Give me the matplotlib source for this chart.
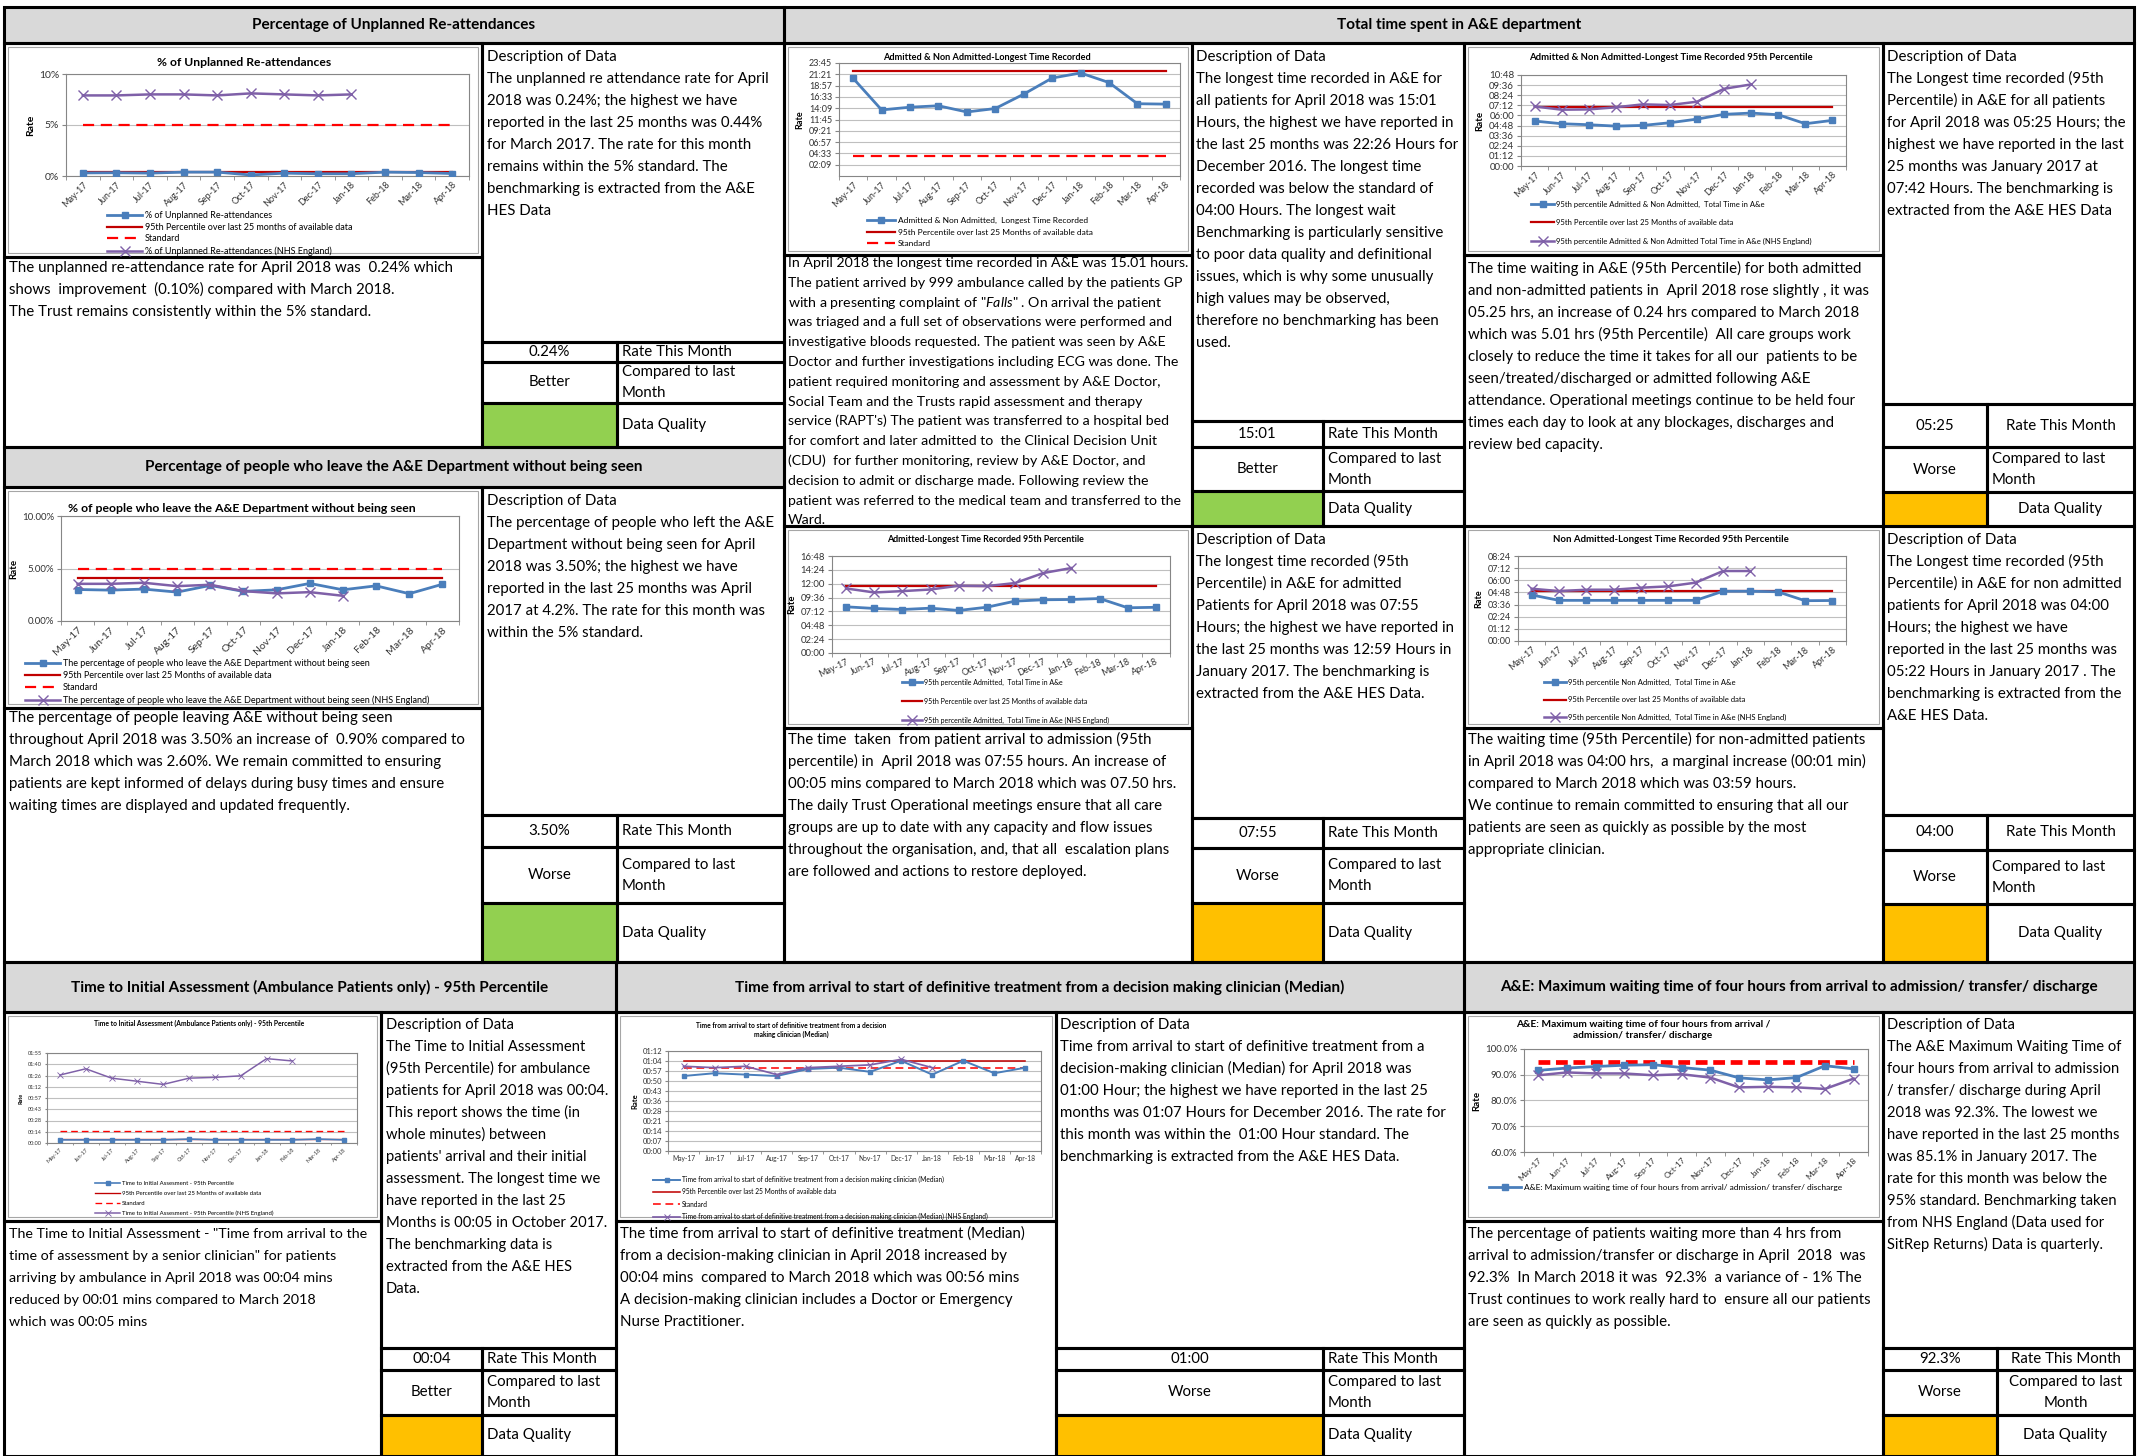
import math
import matplotlib
matplotlib.use('Agg')
import matplotlib.pyplot as plt
from matplotlib.patches import Rectangle
from matplotlib.ticker import FuncFormatter

W, H = 2155, 1456
plt.rcParams['font.family'] = ['Lato', 'DejaVu Sans']
plt.rcParams['mathtext.fontset'] = 'custom'
plt.rcParams['mathtext.rm'] = 'Lato'
plt.rcParams['mathtext.it'] = 'Lato:italic'

# ---------------- data ----------------
months = ['May-17', 'Jun-17', 'Jul-17', 'Aug-17', 'Sep-17', 'Oct-17',
          'Nov-17', 'Dec-17', 'Jan-18', 'Feb-18', 'Mar-18', 'Apr-18']

# % of unplanned re-attendances
reatt = [0.30, 0.32, 0.28, 0.38, 0.38, 0.10, 0.28, 0.22, 0.22, 0.38, 0.34, 0.24]
reatt_p95 = 0.40
reatt_std = 5.0
reatt_nhs = [7.9, 7.9, 8.0, 8.0, 7.9, 8.1, 8.0, 7.9, 8.0]

# admitted & non admitted, longest time recorded (hh:mm)
longest = ['20:29', '13:47', '14:22', '14:40', '13:21', '14:05',
           '17:08', '20:33', '21:38', '19:36', '15:06', '15:01']
longest_p95 = '22:05'
longest_std = '04:00'

# admitted & non admitted, 95th percentile total time
allp = ['05:20', '05:01', '04:54', '04:44', '04:49', '05:08',
        '05:34', '06:08', '06:17', '06:05', '05:01', '05:25']
allp_p95 = '07:02'
allp_nhs = ['07:04', '06:41', '06:43', '06:58', '07:19', '07:14', '07:38', '09:10', '09:41']

# % leaving without being seen
left = [3.00, 2.94, 3.04, 2.75, 3.39, 2.82, 2.97, 3.58, 2.97, 3.35, 2.60, 3.50]
left_p95 = 4.11
left_std = 5.0
left_nhs = [3.54, 3.54, 3.64, 3.32, 3.45, 2.85, 2.63, 2.75, 2.40]

# admitted 95th percentile
adm = ['08:00', '07:43', '07:32', '07:46', '07:22', '07:56',
       '08:59', '09:13', '09:16', '09:26', '07:50', '07:55']
adm_p95 = '11:35'
adm_nhs = ['11:11', '10:29', '10:43', '11:00', '11:39', '11:35', '12:07', '13:51', '14:43']

# non admitted 95th percentile
nonadm = ['04:33', '04:01', '04:01', '04:01', '04:01', '04:01',
          '04:01', '04:55', '04:55', '04:52', '03:59', '04:00']
nonadm_p95 = '04:55'
nonadm_nhs = ['05:10', '04:56', '05:04', '05:04', '05:16', '05:24', '05:46', '06:55', '06:55']

# time to initial assessment (ambulance), 95th percentile
tia = ['00:04', '00:04', '00:04', '00:04', '00:04', '00:05',
       '00:04', '00:04', '00:04', '00:04', '00:05', '00:04']
tia_p95 = '00:05'
tia_std = '00:15'
tia_nhs = ['01:27', '01:35', '01:23', '01:19', '01:15', '01:23', '01:24', '01:26', '01:48', '01:45']

# time to treatment by decision making clinician (median)
ttt = ['00:54', '00:56', '00:55', '00:54', '00:59', '01:00',
       '00:57', '01:05', '00:55', '01:05', '00:56', '01:00']
ttt_p95 = '01:05'
ttt_std = '01:00'
ttt_nhs = ['01:01', '01:00', '01:01', '00:55', '01:00', '01:01', '01:02', '01:06', '01:00']

# four hour maximum wait (%)
fourhr = [91.7, 92.6, 93.2, 93.7, 93.9, 92.8, 91.8, 88.8, 88.0, 88.9, 93.5, 92.3]
fourhr_std = 95.0
fourhr_nhs = [89.8, 90.9, 90.5, 90.5, 89.8, 90.2, 88.9, 85.1, 85.3, 85.1, 84.5, 88.5]

# ---------------- texts ----------------
desc1 = ['Description of Data', 'The unplanned re attendance rate for April',
         '2018 was 0.24%; the highest we have', 'reported in the last 25 months was 0.44%',
         'for March 2017. The rate for this month', 'remains within the 5% standard. The',
         'benchmarking is extracted from the A&E', 'HES Data']
comm1 = ['The unplanned re-attendance rate for April 2018 was  0.24% which',
         'shows  improvement  (0.10%) compared with March 2018.',
         'The Trust remains consistently within the 5% standard.']
desc2 = ['Description of Data', 'The longest time recorded in A&E for',
         'all patients for April 2018 was 15:01', 'Hours, the highest we have reported in',
         'the last 25 months was 22:26 Hours for', 'December 2016. The longest time',
         'recorded was below the standard of', '04:00 Hours. The longest wait',
         'Benchmarking is particularly sensitive', 'to poor data quality and definitional',
         'issues, which is why some unusually', 'high values may be observed,',
         'therefore no benchmarking has been', 'used.']
comm2 = ['In April 2018 the longest time recorded in A&E was 15.01 hours.',
         'The patient arrived by 999 ambulance called by the patients GP',
         'with a presenting complaint of "$\\mathit{Falls}$" . On arrival the patient',
         'was triaged and a full set of observations were performed and',
         'investigative bloods requested. The patient was seen by A&E',
         'Doctor and further investigations including ECG was done. The',
         'patient required monitoring and assessment by A&E Doctor,',
         'Social Team and the Trusts rapid assessment and therapy',
         "service (RAPT's) The patient was transferred to a hospital bed",
         'for comfort and later admitted to  the Clinical Decision Unit',
         '(CDU)  for further monitoring, review by A&E Doctor, and',
         'decision to admit or discharge made. Following review the',
         'patient was referred to the medical team and transferred to the',
         'Ward.']
desc3 = ['Description of Data', 'The Longest time recorded (95th',
         'Percentile) in A&E for all patients', 'for April 2018 was 05:25 Hours; the',
         'highest we have reported in the last', '25 months was January 2017 at',
         '07:42 Hours. The benchmarking is', 'extracted from the A&E HES Data']
comm3 = ['The time waiting in A&E (95th Percentile) for both admitted',
         'and non-admitted patients in  April 2018 rose slightly , it was',
         '05.25 hrs, an increase of 0.24 hrs compared to March 2018',
         'which was 5.01 hrs (95th Percentile)  All care groups work',
         'closely to reduce the time it takes for all our  patients to be',
         'seen/treated/discharged or admitted following A&E',
         'attendance. Operational meetings continue to be held four',
         'times each day to look at any blockages, discharges and',
         'review bed capacity.']
desc4 = ['Description of Data', 'The percentage of people who left the A&E',
         'Department without being seen for April', '2018 was 3.50%; the highest we have',
         'reported in the last 25 months was April', '2017 at 4.2%. The rate for this month was',
         'within the 5% standard.']
comm4 = ['The percentage of people leaving A&E without being seen',
         'throughout April 2018 was 3.50% an increase of  0.90% compared to',
         'March 2018 which was 2.60%. We remain committed to ensuring',
         'patients are kept informed of delays during busy times and ensure',
         'waiting times are displayed and updated frequently.']
desc5 = ['Description of Data', 'The longest time recorded (95th',
         'Percentile) in A&E for admitted', 'Patients for April 2018 was 07:55',
         'Hours; the highest we have reported in', 'the last 25 months was 12:59 Hours in',
         'January 2017. The benchmarking is', 'extracted from the A&E HES Data.']
comm5 = ['The time  taken  from patient arrival to admission (95th',
         'percentile) in  April 2018 was 07:55 hours. An increase of',
         '00:05 mins compared to March 2018 which was 07.50 hrs.',
         'The daily Trust Operational meetings ensure that all care',
         'groups are up to date with any capacity and flow issues',
         'throughout the organisation, and, that all  escalation plans',
         'are followed and actions to restore deployed.']
desc6 = ['Description of Data', 'The Longest time recorded (95th',
         'Percentile) in A&E for non admitted', 'patients for April 2018 was 04:00',
         'Hours; the highest we have', 'reported in the last 25 months was',
         '05:22 Hours in January 2017 . The', 'benchmarking is extracted from the',
         'A&E HES Data.']
comm6 = ['The waiting time (95th Percentile) for non-admitted patients',
         'in April 2018 was 04:00 hrs,  a marginal increase (00:01 min)',
         'compared to March 2018 which was 03:59 hours.',
         'We continue to remain committed to ensuring that all our',
         'patients are seen as quickly as possible by the most',
         'appropriate clinician.']
desc7 = ['Description of Data', 'The Time to Initial Assessment',
         '(95th Percentile) for ambulance', 'patients for April 2018 was 00:04.',
         'This report shows the time (in', 'whole minutes) between',
         "patients' arrival and their initial", 'assessment. The longest time we',
         'have reported in the last 25', 'Months is 00:05 in October 2017.',
         'The benchmarking data is', 'extracted from the A&E HES', 'Data.']
comm7 = ['The Time to Initial Assessment - "Time from arrival to the',
         'time of assessment by a senior clinician" for patients',
         'arriving by ambulance in April 2018 was 00:04 mins',
         'reduced by 00:01 mins compared to March 2018',
         'which was 00:05 mins']
desc8 = ['Description of Data', 'Time from arrival to start of definitive treatment from a',
         'decision-making clinician (Median) for April 2018 was',
         '01:00 Hour; the highest we have reported in the last 25',
         'months was 01:07 Hours for December 2016. The rate for',
         'this month was within the  01:00 Hour standard. The',
         'benchmarking is extracted from the A&E HES Data.']
comm8 = ['The time from arrival to start of definitive treatment (Median)',
         'from a decision-making clinician in April 2018 increased by',
         '00:04 mins  compared to March 2018 which was 00:56 mins',
         'A decision-making clinician includes a Doctor or Emergency',
         'Nurse Practitioner.']
desc9 = ['Description of Data', 'The A&E Maximum Waiting Time of',
         'four hours from arrival to admission', '/ transfer/ discharge during April',
         '2018 was 92.3%. The lowest we', 'have reported in the last 25 months',
         'was 85.1% in January 2017. The', 'rate for this month was below the',
         '95% standard. Benchmarking taken', 'from NHS England (Data used for',
         'SitRep Returns) Data is quarterly.']
comm9 = ['The percentage of patients waiting more than 4 hrs from',
         'arrival to admission/transfer or discharge in April  2018  was',
         '92.3%  In March 2018 it was  92.3%  a variance of - 1% The',
         'Trust continues to work really hard to  ensure all our patients',
         'are seen as quickly as possible.']

GREEN = '#92d050'
AMBER = '#ffc000'
GREY = '#d9d9d9'
FS = 10.8

fig = plt.figure(figsize=(W / 100, H / 100), dpi=100)
bg = fig.add_axes([0, 0, 1, 1])
bg.set_xlim(0, W)
bg.set_ylim(H, 0)
bg.axis('off')


def frac(x0, y0, x1, y1):
    return [x0 / W, 1 - y1 / H, (x1 - x0) / W, (y1 - y0) / H]


def cell(x0, y0, x1, y1, fc='white'):
    bg.add_patch(Rectangle((x0, y0), x1 - x0, y1 - y0, fc=fc, ec='none', zorder=1))
    bg.add_patch(Rectangle((x0, y0), x1 - x0, y1 - y0, fill=False, ec='black', lw=2.2, zorder=2))


def write(x, y, rows, dy=22, fs=FS):
    for i, r in enumerate(rows):
        bg.text(x, y + i * dy, r, fontsize=fs, ha='left', va='baseline', zorder=5)


def header(x0, y0, x1, y1, txt):
    cell(x0, y0, x1, y1, fc=GREY)
    bg.text((x0 + x1) / 2, (y0 + y1) / 2, txt, ha='center', va='center',
            fontsize=11, fontweight='bold', zorder=5)


def table(x0, xm, x1, ys, value, status, dq, align=('left', 'left', 'left')):
    rows = [(ys[0], ys[1]), (ys[1], ys[2]), (ys[2], ys[3])]
    for (a, b), f in zip(rows, ['white', 'white', dq]):
        cell(x0, a, xm, b, fc=f)
        cell(xm, a, x1, b)
    bg.text((x0 + xm) / 2, sum(rows[0]) / 2, value, ha='center', va='center', fontsize=FS, zorder=5)
    bg.text((x0 + xm) / 2, sum(rows[1]) / 2, status, ha='center', va='center', fontsize=FS, zorder=5)

    def lab(txt, yc, al):
        x = xm + 5 if al == 'left' else (xm + x1) / 2
        bg.text(x, yc, txt, ha=al, va='center', fontsize=FS, zorder=5)
    lab('Rate This Month', sum(rows[0]) / 2, align[0])
    lab('Compared to last', sum(rows[1]) / 2 - 10.5, align[1])
    lab('Month', sum(rows[1]) / 2 + 10.5, align[1])
    lab('Data Quality', sum(rows[2]) / 2, align[2])


def hrs(t):
    h, m = t.split(':')
    return int(h) + int(m) / 60


def as_num(v):
    if isinstance(v, str):
        return hrs(v)
    if isinstance(v, list):
        return [as_num(i) for i in v]
    return v


def hhmm(v, pos=None):
    m = int(math.floor(v * 60 + 1e-6))
    return '%02d:%02d' % (m // 60, m % 60)


def style(kind, k):
    if kind == 'main':
        return dict(color='#4a7ebb', lw=2.0 * k, marker='s', ms=4.5 * k, zorder=4)
    if kind == 'p95':
        return dict(color='#c00000', lw=1.6 * k, zorder=3)
    if kind == 'std':
        return dict(color='#ff0000', lw=1.6 * k, ls=(0, (5, 3)), zorder=3)
    if kind == 'std_bold':
        return dict(color='#ff0000', lw=3.4 * k, ls=(0, (2.5, 1.2)), zorder=3)
    return dict(color='#7f60a8', lw=1.8 * k, marker='x', ms=7 * k, mew=1.0 * k, zorder=4)


def chart(cell_px, plot_px, series, ylim, yticks, yfmt, title, title_xy, title_fs,
          tick_fs, xtick_fs, leg, xrot=45, k=1.0):
    x0, y0, x1, y1 = cell_px
    bg.add_patch(Rectangle((x0 + 4, y0 + 4), x1 - x0 - 8, y1 - y0 - 8, fc='white',
                           ec='#a6a6a6', lw=0.8, zorder=3))
    bg.text(title_xy[0], title_xy[1], title, ha='center', va='center', fontsize=title_fs,
            fontweight='bold', zorder=5, linespacing=1.3)
    ax = fig.add_axes(frac(*plot_px))
    n = len(months)
    for vals, kind, label in series:
        vals = as_num(vals)
        if not isinstance(vals, list):
            vals = [vals] * n
        ax.plot(range(len(vals)), vals, label=label, **style(kind, k))
    ax.set_xlim(-0.5, n - 0.5)
    ax.set_xticks(range(n))
    if xrot:
        ax.set_xticklabels(months, rotation=xrot, ha='right', rotation_mode='anchor', fontsize=xtick_fs)
    else:
        ax.set_xticklabels(months, fontsize=xtick_fs)
    ax.set_xticks([i - 0.5 for i in range(n + 1)], minor=True)
    ax.tick_params(axis='x', which='major', length=0, pad=3, colors='#333333')
    ax.tick_params(axis='x', which='minor', length=3 * k, color='#868686')
    ax.set_ylim(*ylim)
    ax.set_yticks(yticks)
    ax.yaxis.set_major_formatter(FuncFormatter(yfmt))
    ax.tick_params(axis='y', labelsize=tick_fs, length=3 * k, color='#868686', pad=2,
                   labelcolor='#333333')
    ax.grid(axis='y', color='#bfbfbf', lw=0.8)
    ax.set_axisbelow(True)
    for s in ax.spines.values():
        s.set_color('#868686')
        s.set_linewidth(0.8)
    ax.set_ylabel('Rate', fontsize=tick_fs, fontweight='bold', labelpad=3)

    lx, ly, pitch, lfs, hpx = leg
    fpx = lfs * 100 / 72
    ax.legend(loc='upper left', bbox_to_anchor=(lx / W, 1 - (ly - 0.45 * fpx) / H),
              bbox_transform=fig.transFigure, frameon=False, fontsize=lfs,
              borderpad=0, borderaxespad=0, labelspacing=max(pitch / fpx - 0.9, 0),
              handlelength=hpx / fpx, handletextpad=0.3)
    return ax


def steps(step, count, start=0.0):
    return [round(start + i * step, 6) for i in range(count)]


pct0 = lambda v, p: '%d%%' % round(v)
pct2 = lambda v, p: '%.2f%%' % v
pct1 = lambda v, p: '%.1f%%' % v

# ---------------- headers ----------------
header(4, 7, 784, 43, 'Percentage of Unplanned Re-attendances')
header(784, 7, 2134, 43, 'Total time spent in A&E department')
header(4, 447, 784, 487, 'Percentage of people who leave the A&E Department without being seen')
header(4, 962, 616, 1012, 'Time to Initial Assessment (Ambulance Patients only) - 95th Percentile')
header(616, 962, 1464, 1012,
       'Time from arrival to start of definitive treatment from a decision making clinician (Median)')
header(1464, 962, 2134, 1012,
       'A&E: Maximum waiting time of four hours from arrival to admission/ transfer/ discharge')

# ---------------- chart cells, commentary, descriptions ----------------
for c in [(4, 43, 482, 257), (784, 43, 1192, 255), (1464, 43, 1883, 255),
          (4, 487, 482, 708), (784, 526, 1192, 728), (1464, 526, 1883, 728),
          (4, 1012, 381, 1221), (616, 1012, 1056, 1221), (1464, 1012, 1883, 1221)]:
    cell(*c)

cell(4, 257, 482, 447); write(9, 272, comm1)
cell(784, 255, 1192, 526); write(788, 267, comm2, dy=19.8, fs=10.2)
cell(1464, 255, 1883, 526); write(1468, 273, comm3)
cell(4, 708, 482, 962); write(9, 722, comm4)
cell(784, 728, 1192, 962); write(788, 744, comm5)
cell(1464, 728, 1883, 962); write(1468, 744, comm6)
cell(4, 1221, 381, 1456); write(9, 1238, comm7, fs=10.3)
cell(616, 1221, 1056, 1456); write(620, 1238, comm8)
cell(1464, 1221, 1883, 1456); write(1468, 1238, comm9)

cell(482, 43, 784, 342); write(487, 61, desc1)
cell(1192, 43, 1464, 421); write(1196, 61, desc2)
cell(1883, 43, 2134, 404); write(1887, 61, desc3)
cell(482, 487, 784, 815); write(487, 505, desc4)
cell(1192, 526, 1464, 818); write(1196, 544, desc5)
cell(1883, 526, 2134, 815); write(1887, 544, desc6)
cell(381, 1012, 616, 1348); write(386, 1029, desc7, fs=10.6)
cell(1056, 1012, 1464, 1348); write(1060, 1029, desc8)
cell(1883, 1012, 2134, 1348); write(1887, 1029, desc9, fs=10.6)

table(482, 617, 784, [342, 362, 403, 447], '0.24%', 'Better', GREEN)
table(1192, 1323, 1464, [421, 447, 491, 526], '15:01', 'Better', GREEN)
table(1883, 1987, 2134, [404, 447, 492, 526], '05:25', 'Worse', AMBER, ('center', 'left', 'center'))
table(482, 617, 784, [815, 847, 903, 962], '3.50%', 'Worse', GREEN)
table(1192, 1323, 1464, [818, 848, 903, 962], '07:55', 'Worse', AMBER)
table(1883, 1987, 2134, [815, 850, 904, 962], '04:00', 'Worse', AMBER, ('center', 'left', 'center'))
table(381, 482, 616, [1348, 1370, 1415, 1456], '00:04', 'Better', AMBER)
table(1056, 1323, 1464, [1348, 1370, 1415, 1456], '01:00', 'Worse', AMBER)
table(1883, 1997, 2134, [1348, 1370, 1415, 1456], '92.3%', 'Worse', AMBER, ('center', 'center', 'center'))

# ---------------- charts ----------------
chart((4, 43, 482, 257), (66, 74, 469, 176),
      [(reatt, 'main', '% of Unplanned Re-attendances'),
       (reatt_p95, 'p95', '95th Percentile over last 25 months of available data'),
       (reatt_std, 'std', 'Standard'),
       (reatt_nhs, 'nhs', '% of Unplanned Re-attendances (NHS England)')],
      (0, 10), [0, 5, 10], pct0, '% of Unplanned Re-attendances', (244, 62), 8.7,
      7.5, 6.5, (107, 215, 10.9, 6.5, 35))

chart((784, 43, 1192, 255), (839, 63, 1180, 176),
      [(longest, 'main', 'Admitted & Non Admitted,  Longest Time Recorded'),
       (longest_p95, 'p95', '95th Percentile over last 25 Months of available data'),
       (longest_std, 'std', 'Standard')],
      (-0.25, 23.75), steps(2.4, 10, 2.15), hhmm,
      'Admitted & Non Admitted-Longest Time Recorded', (987, 58), 6.6,
      6.5, 6.5, (867, 221, 11.7, 6, 28))

chart((1464, 43, 1883, 255), (1521, 75, 1846, 166),
      [(allp, 'main', '95th percentile Admitted & Non Admitted,  Total Time in A&e'),
       (allp_p95, 'p95', '95th Percentile over last 25 Months of available data'),
       (allp_nhs, 'nhs', '95th percentile Admitted & Non Admitted Total Time in A&e (NHS England)')],
      (0, 10.8), steps(1.2, 10), hhmm,
      'Admitted & Non Admitted-Longest Time Recorded 95th Percentile', (1671, 57), 6.8,
      7, 6.5, (1531, 204, 18.3, 5.5, 23))

chart((4, 487, 482, 708), (61, 516, 459, 621),
      [(left, 'main', 'The percentage of people who leave the A&E Department without being seen'),
       (left_p95, 'p95', '95th Percentile over last 25 Months of available data'),
       (left_std, 'std', 'Standard'),
       (left_nhs, 'nhs', 'The percentage of people who leave the A&E Department without being seen (NHS England)')],
      (0, 10), [0, 5, 10], pct2,
      '% of people who leave the A&E Department without being seen', (242, 509), 8.8,
      7, 7.5, (25, 663, 11.2, 6.5, 35))

chart((784, 526, 1192, 728), (832, 556, 1170, 653),
      [(adm, 'main', '95th percentile Admitted,  Total Time in A&e'),
       (adm_p95, 'p95', '95th Percentile over last 25 Months of available data'),
       (adm_nhs, 'nhs', '95th percentile Admitted,  Total Time in A&e (NHS England)')],
      (0, 16.8), steps(2.4, 8), hhmm,
      'Admitted-Longest Time Recorded 95th Percentile', (985, 539), 6.4,
      6.8, 6.5, (902, 682, 18, 5, 20), xrot=25)

chart((1464, 526, 1883, 728), (1518, 556, 1846, 641),
      [(nonadm, 'main', '95th percentile Non Admitted,  Total Time in A&e'),
       (nonadm_p95, 'p95', '95th Percentile over last 25 Months of available data'),
       (nonadm_nhs, 'nhs', '95th percentile Non Admitted,  Total Time in A&e (NHS England)')],
      (0, 8.4), steps(1.2, 8), hhmm,
      'Non Admitted-Longest Time Recorded 95th Percentile', (1671, 539), 6.9,
      6.5, 6.5, (1544, 682, 17.5, 5.5, 22), xrot=40)

chart((4, 1012, 381, 1221), (47, 1053, 357, 1143),
      [(tia, 'main', 'Time to Initial Assesment - 95th Percentile'),
       (tia_p95, 'p95', '95th Percentile over last 25 Months of available data'),
       (tia_std, 'std', 'Standard'),
       (tia_nhs, 'nhs', 'Time to Initial Assesment - 95th Percentile (NHS England)')],
      (0, 1.92), steps(0.24, 9), hhmm,
      'Time to Initial Assessment (Ambulance Patients only) - 95th Percentile', (199, 1023), 4.9,
      4, 4, (95, 1184, 10, 4.3, 25), k=0.6)

chart((616, 1012, 1056, 1221), (668, 1051, 1041, 1151),
      [(ttt, 'main', 'Time from arrival to start of definitive treatment from a decision making clinician (Median)'),
       (ttt_p95, 'p95', '95th Percentile over last 25 Months of available data'),
       (ttt_std, 'std', 'Standard'),
       (ttt_nhs, 'nhs', 'Time from arrival to start of definitive treatment from a decision making clinician (Median) (NHS England)')],
      (0, 1.2), steps(0.12, 11), hhmm,
      'Time from arrival to start of definitive treatment from a decision\nmaking clinician (Median)',
      (791, 1030), 4.8, 5.5, 4.8, (653, 1179, 11.3, 4.8, 27), xrot=0, k=0.7)

chart((1464, 1012, 1883, 1221), (1524, 1049, 1868, 1152),
      [(fourhr, 'main', 'A&E: Maximum waiting time of four hours from arrival/ admission/ transfer/ discharge'),
       (fourhr_std, 'std_bold', '_nolegend_'),
       (fourhr_nhs, 'nhs', '_nolegend_')],
      (60, 100), [60, 70, 80, 90, 100], pct1,
      'A&E: Maximum waiting time of four hours from arrival /\nadmission/ transfer/ discharge',
      (1643, 1030), 7.3, 7, 6, (1489, 1188, 0, 6, 32))

fig.savefig('out.png', dpi=100)
